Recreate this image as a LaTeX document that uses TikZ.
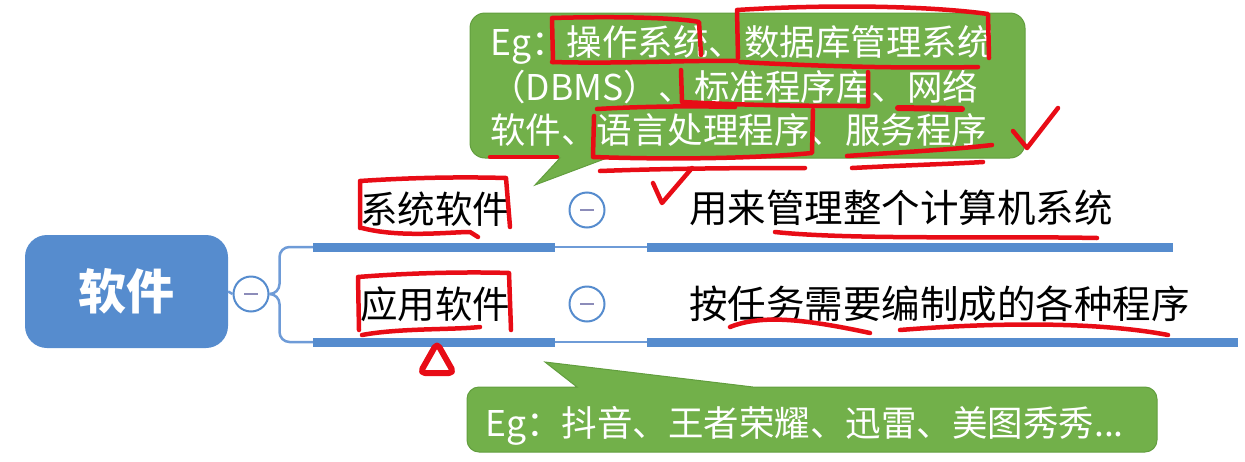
\documentclass[tikz,border=0pt]{standalone}
\usepackage{fontspec}
\setmainfont{Noto Sans CJK SC}
\definecolor{mapblue}{RGB}{86,140,206}
\definecolor{thinblue}{RGB}{110,155,215}
\definecolor{calloutgreen}{RGB}{114,176,74}
\definecolor{calloutedge}{RGB}{98,158,62}
\definecolor{foldminus}{RGB}{140,140,185}
\definecolor{penred}{RGB}{232,12,22}
\tikzset{
  rootbox/.style={rectangle, rounded corners=22pt, fill=mapblue, minimum width=203pt,
    minimum height=113pt, text=white, font=\bfseries\fontsize{48}{50}\selectfont},
  topic/.style={text=black, inner sep=0pt, font=\fontsize{37.5}{45}\selectfont},
  desc/.style={topic, anchor=west, font=\fontsize{38.5}{45}\selectfont},
  foldbtn/.style={circle, draw=mapblue, line width=2pt, fill=white, minimum size=35pt, inner sep=0pt,
    path picture={\draw[foldminus, line width=2.5pt]
      ([xshift=-7pt]path picture bounding box.center) -- ([xshift=7pt]path picture bounding box.center);}},
  bar/.style={mapblue, line width=9pt},
  branch/.style={thinblue, line width=2.5pt},
  callout/.style={fill=calloutgreen, draw=calloutedge, line width=1pt},
  callouttext/.style={text=white, inner sep=0pt, font=\fontsize{35.5}{44}\selectfont, anchor=base west},
  pen/.style={penred, line width=4.5pt, line cap=round, line join=round},
}
\begin{document}
\begin{tikzpicture}[x=1pt,y=-1pt]
\useasboundingbox (0,0) rectangle (1245,461);
% 中心主题
\node[rootbox] (root) at (126.5,291.5) {软件};
\node[foldbtn] (rootfold) at (251,294) {};
\draw[branch] (root.east) -- (rootfold.west);
% 两个分支的下划线
\coordinate (sysbarA) at (313,247);  \coordinate (sysbarB) at (555,247);
\coordinate (sysdescA) at (647,247); \coordinate (sysdescB) at (1173,247);
\coordinate (appbarA) at (313,342);  \coordinate (appbarB) at (555,342);
\coordinate (appdescA) at (647,342); \coordinate (appdescB) at (1238,342);
\draw[branch,rounded corners=10pt] (rootfold.east) -- ++(10,0) |- (sysbarA);
\draw[branch,rounded corners=10pt] (rootfold.east) -- ++(10,0) |- (appbarA);
\draw[bar] (sysbarA) -- (sysbarB);
\draw[branch,line width=2pt] (sysbarB) -- (sysdescA);
\draw[bar] (sysdescA) -- (sysdescB);
\draw[bar] (appbarA) -- (appbarB);
\draw[branch,line width=2pt] (appbarB) -- (appdescA);
\draw[bar] (appdescA) -- (appdescB);
% 分支文字
\node[topic] (sys) at (435,209) {系统软件};
\node[topic] (app) at (435,304) {应用软件};
\node[foldbtn] (sysfold) at (587,210) {};
\node[foldbtn] (appfold) at (587,304) {};
\node[desc] (sysdesc) at (689,208) {用来管理整个计算机系统};
\node[desc] (appdesc) at (689,304) {按任务需要编制成的各种程序};
% 上方标注
\draw[callout] (535,185) -- (560,158) [rounded corners=15pt] -- (470,158) -- (470,13)
  -- (1025,13) -- (1025,158) [sharp corners] -- (607,158) -- cycle;
\node[callouttext] (sysegA) at (490,55) {Eg：操作系统、数据库管理系统};
\node[callouttext] (sysegB) at (490,100) {（DBMS）、标准程序库、网络};
\node[callouttext] (sysegC) at (490,143) {软件、语言处理程序、服务程序};
% 下方标注
\draw[callout] (545,362) -- (577,387) [rounded corners=12pt] -- (467,387) -- (467,452)
  -- (1157,452) -- (1157,387) [sharp corners] -- (753,387) -- cycle;
\node[callouttext] (appeg) at (485,436) {Eg：抖音、王者荣耀、迅雷、美图秀秀...};
% 红笔批注
\draw[pen] (553,62) -- (552,18) .. controls (620,16) and (680,18) .. (699,22) -- (701,55);
\draw[pen] (552,62) .. controls (620,64) and (690,60) .. (737,61);
\draw[pen] (738,58) -- (737,10) .. controls (830,4) and (930,6) .. (988,14) -- (989,58);
\draw[pen] (740,62) .. controls (850,68) and (930,68) .. (978,67);
\draw[pen] (681,70) -- (682,102) .. controls (760,106) and (830,106) .. (868,106) -- (868,72);
\draw[pen,line width=6pt] (898,108) -- (962,109);
\draw[pen] (597,109) .. controls (650,106) and (700,106) .. (735,107);
\draw[pen] (594,116) -- (593,157) .. controls (680,160) and (760,158) .. (812,153) -- (813,110);
\draw[pen] (600,171) .. controls (680,168) and (760,168) .. (805,168);
\draw[pen] (847,156) .. controls (900,152) and (950,150) .. (992,145);
\draw[pen] (852,168) .. controls (910,165) and (950,164) .. (983,162);
\draw[pen] (490,157) -- (557,157);
\draw[pen] (1013,131) -- (1027,148) -- (1058,108);
\draw[pen] (653,183) -- (662,203) -- (692,168);
\draw[pen] (360,228) -- (360,181) .. controls (420,177) and (470,177) .. (506,178) -- (510,227);
\draw[pen] (362,228) .. controls (400,238) and (450,232) .. (470,232) -- (478,237);
\draw[pen] (359,330) -- (358,277) .. controls (420,272) and (480,272) .. (509,273) -- (511,330);
\draw[pen] (362,335) .. controls (400,328) and (450,330) .. (480,327);
\draw[pen,line width=6pt,rounded corners=5pt] (437,343) -- (420,373) -- (454,373) -- cycle;
\draw[pen] (775,232) .. controls (850,240) and (1000,236) .. (1097,238);
\draw[pen] (730,327) .. controls (760,315) and (800,318) .. (870,333);
\draw[pen] (900,330) .. controls (1000,322) and (1100,322) .. (1168,335);
\end{tikzpicture}
\end{document}
